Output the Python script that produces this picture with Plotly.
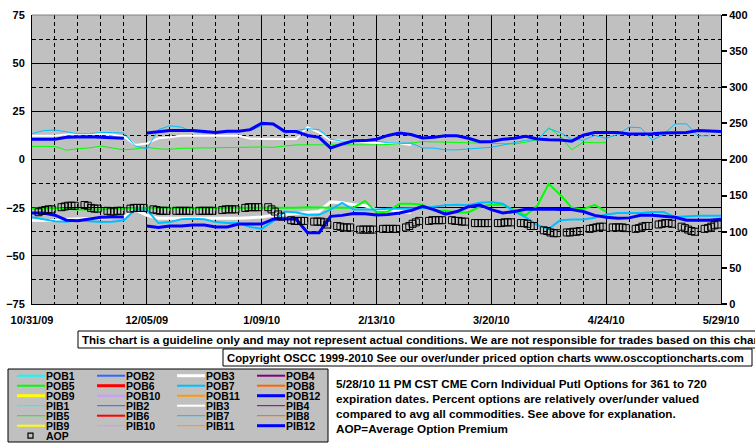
import pandas as pd
import plotly.graph_objects as go

# ---------------- data ----------------
DATES = pd.date_range("2009-10-31", "2010-05-29", freq="84h")   # half-week readings (61)
AOP_DATES = pd.bdate_range("2009-11-02", "2010-05-28")           # trading days (150)

N = None
# lower group (left axis, %)
POB3 = [-31.5, -31.7, -31.7, -31.0, -30.8, -30.5, -30.5, -30.3, -30.0, -26.0, -29.0,
        -30.5, -30.5, -30.5, -30.5, -30.5, -30.8, -30.8, -30.5, -30.2, -29.8,
        -29.0, -28.5, -28.0, -27.5, -27.0, -22.0, -22.5, -23.5, -24.0, -26.0,
        -26.5, -27.0, -27.5, N, N, N, N, N, N, N,
        N, N, N, N, N, N, N, N, N, N,
        N, N, N, N, N, N, N, N, N, N]
POB5 = [-25.5, -25.3, -25.0, -25.5, -26.0, -26.0, -26.0, -25.5, -25.3, -25.0, -25.0,
        -25.0, -25.2, -25.2, -25.2, -25.2, -25.2, -25.2, -25.2, -25.0, -25.0,
        -25.0, -25.0, -25.0, -24.8, -25.0, -25.0, -25.0, -25.0, -21.5, -27.5,
        -27.0, -23.0, -23.0, -23.5, -26.6, -26.6, -27.5, -27.5, -24.5, -23.5,
        -23.5, -26.2, -29.0, -24.0, -12.6, -18.3, -25.0, -25.8, -23.5, -27.0,
        N, N, N, N, N, N, N, N, N, N]
POB7 = [-30.0, -31.0, -32.0, -32.3, -31.5, -32.0, -32.5, -32.3, -31.5, -26.0, -26.0,
        -33.0, -32.5, -31.0, -30.8, -31.0, -32.5, -33.0, -33.0, -35.0, -36.0,
        -32.0, -27.0, -27.5, -28.7, -28.7, -26.0, -22.5, -26.0, -26.0, -26.0,
        -25.5, -25.3, -25.3, -25.3, -24.5, -23.7, -23.5, -23.8, -22.5, -22.0,
        -23.0, -26.9, -30.0, -34.0, -36.0, -31.5, -31.2, -31.2, -30.2, -28.5,
        -27.8, -27.8, -27.8, -27.3, -27.3, -29.9, -29.5, -29.2, -29.2, -29.2]
POB12 = [-27.8, -27.8, -28.9, -31.5, -31.8, -30.8, -30.0, -29.9, -29.9, N, -34.5,
         -35.3, -34.5, -34.5, -34.0, -34.0, -35.0, -35.0, -33.5, -33.5, -33.5,
         -31.0, -30.7, -31.0, -38.0, -38.0, -29.5, -29.0, -28.0, -28.2, -28.8,
         -28.5, -27.8, -26.5, -24.3, -26.0, -28.4, -27.0, -24.5, -23.6, -26.0,
         -27.8, -27.0, -25.8, -25.7, -25.7, -26.0, -26.0, -27.0, -29.0, -30.0,
         -30.5, -30.3, -29.0, -29.0, -29.5, -30.0, -31.5, -31.6, -31.5, -31.0]
# upper group (left axis, %)
PIB3 = [12.3, 12.3, 12.3, 13.0, 13.2, 13.2, 13.2, 12.8, 12.0, 7.5, 8.3,
        11.0, 11.5, 12.3, 12.3, 12.3, 12.3, 12.3, 12.3, 10.8, 10.6,
        10.6, 10.6, 10.6, 16.8, 14.0, 10.0, 9.8, 9.5, 9.0, 8.5,
        8.5, 8.3, 7.5, N, N, N, N, N, N, N,
        N, N, N, N, N, N, N, N, N, N,
        N, N, N, N, N, N, N, N, N, N]
PIB5 = [6.7, 6.7, 6.7, 4.8, 5.6, 6.0, 7.0, 6.0, 5.0, 5.5, 6.4,
        5.5, 5.3, 5.8, 5.9, 6.0, 6.0, 6.0, 6.2, 6.5, 6.5,
        6.3, 6.8, 7.6, 7.6, 7.6, 7.6, 7.4, 7.5, 7.6, 7.6,
        7.8, 8.0, 8.5, 9.3, 9.3, 9.0, 8.8, 8.6, 8.6, 8.5,
        8.1, 8.1, 9.0, 10.2, 16.5, 12.0, 5.0, 9.0, 8.7, 8.7,
        N, N, N, N, N, N, N, N, N, N]
PIB7 = [13.4, 15.0, 15.3, 14.5, 13.4, 13.4, 14.0, 14.0, 13.7, 7.0, 5.5,
        15.5, 17.5, 16.8, 14.5, 13.7, 13.7, 14.0, 15.0, 15.0, 17.5,
        18.5, 13.5, 15.0, 16.0, 15.5, 10.5, 9.5, 9.5, 9.5, 9.5,
        8.7, 8.6, 8.5, 6.0, 5.9, 5.0, 5.0, 5.5, 6.0, 6.3,
        7.5, 8.8, 10.0, 10.3, 16.0, 14.0, 10.5, 10.0, 12.5, 11.0,
        13.0, 16.8, 16.5, 10.0, 13.0, 18.5, 18.5, 12.3, 12.3, N]
PIB12 = [10.5, 10.5, 10.5, 11.5, 11.8, 11.8, 11.5, 11.2, 11.0, N, 13.7,
         14.5, 15.0, 15.0, 15.0, 14.5, 14.0, 14.7, 14.7, 15.5, 18.8,
         18.4, 14.7, 14.5, 12.5, 11.5, 6.0, 8.0, 9.7, 9.8, 10.5,
         12.5, 13.7, 13.0, 11.2, 11.5, 12.3, 12.3, 11.0, 9.2, 9.3,
         10.5, 11.0, 12.0, 10.6, 10.2, 10.1, 9.5, 12.6, 14.0, 14.0,
         14.0, 13.3, 13.3, 13.4, 13.7, 13.7, 14.0, 15.0, 14.8, 14.5]
# average option premium (right axis)
AOP = [127, 129, 130, 131, 131, 134, 135, 136, 136, 136, 137, 136, 133, 132, 132,
       129, 128, 128, 129, 129, 132, 133, 133, 133, 133, 131, 130, 129, 129, 129,
       129, 129, 129, 129, 129, 129, 129, 129, 129, 129, 130, 131, 131, 131, 131,
       133, 134, 134, 134, 134, 134, 131, 128, 124, 121, 116, 115, 115, 115, 115,
       114, 114, 114, 113, 110, 108, 107, 106, 106, 106, 103, 103, 103, 103, 103,
       104, 104, 104, 104, 104, 106, 108, 111, 113, 115, 115, 116, 116, 116, 116,
       116, 115, 115, 114, 114, 112, 112, 112, 112, 112, 112, 112, 113, 113, 113,
       112, 112, 111, 108, 108, 102, 101, 99, 98, 98, 99, 99, 100, 100, 101,
       104, 105, 106, 107, 107, 106, 106, 106, 106, 105, 104, 105, 107, 108, 108,
       110, 111, 112, 112, 111, 107, 105, 103, 101, 100, 104, 105, 107, 109, 110]

SERIES = {"POB3": POB3, "POB5": POB5, "POB7": POB7, "POB12": POB12,
          "PIB3": PIB3, "PIB5": PIB5, "PIB7": PIB7, "PIB12": PIB12}

LEGEND_NAMES = (["POB%d" % i for i in range(1, 13)] +
                ["PIB%d" % i for i in range(1, 13)] + ["AOP"])

NOTE_LINES = ["5/28/10 11 PM CST CME Corn Individual Putl Options for 361 to 720",
              "expiration dates. Percent options are relatively over/under valued",
              "compared to avg all commodities. See above for explanation.",
              "AOP=Average Option Premium"]
DISCLAIMER = ("This chart is a guideline only and may not represent actual conditions. "
              "We are not responsible for trades based on this chart")
COPYRIGHT = ("Copyright OSCC 1999-2010 See our over/under priced option charts "
             "www.osccoptioncharts.com")

# ---------------- styles ----------------
COLORS = ["#00FFFF", "#3366FF", "#FFFFFF", "#800080", "#00FF00", "#FF0000",
          "#00BFFF", "#FF6600", "#FFFF00", "#CC99FF", "#FF9900", "#0000FF"]


def style(name):
    n = int(name[3:])
    color = COLORS[n - 1]
    if name.startswith("POB"):
        width = 3 if n % 3 == 0 else 2
    else:
        width = 3 if n == 12 else (2 if n % 3 == 0 else 1)
    return color, width


FONT = "Arial, Liberation Sans, sans-serif"
L, T, W, H = 32, 15, 689, 289          # plot area in pixels
FIG_W, FIG_H = 755, 446


def px(x):
    return (x - L) / W


def py(y):
    return (T + H - y) / H


fig = go.Figure()
for name, vals in SERIES.items():
    color, width = style(name)
    fig.add_trace(go.Scatter(x=DATES, y=vals, mode="lines", name=name,
                             line=dict(color=color, width=width, shape="linear"),
                             connectgaps=False))
fig.add_trace(go.Scatter(x=AOP_DATES, y=AOP, mode="markers", name="AOP", yaxis="y2",
                         marker=dict(symbol="square-open", size=7, color="black",
                                     line=dict(width=1, color="black"))))

tickfont = dict(family=FONT, size=11, color="black", weight="bold")
DAY = 86400000

fig.update_layout(
    template="none",
    width=FIG_W, height=FIG_H,
    margin=dict(l=L, r=FIG_W - L - W, t=T, b=FIG_H - T - H, pad=0),
    paper_bgcolor="white", plot_bgcolor="#C0C0C0",
    showlegend=False,
    xaxis=dict(type="date", range=["2009-10-31", "2010-05-29"],
               tick0="2009-10-31", dtick=35 * DAY, tickformat="%-m/%d/%y",
               showgrid=True, gridcolor="black", gridwidth=1,
               minor=dict(tick0="2009-10-31", dtick=7 * DAY, showgrid=True,
                          gridcolor="black", gridwidth=1, griddash="4px,3px"),
               showline=True, linecolor="black", linewidth=1,
               ticks="", tickfont=tickfont, ticklabelstandoff=6,
               zeroline=False, automargin=False, fixedrange=True),
    yaxis=dict(range=[-75, 75], tick0=0, dtick=25,
               showgrid=True, gridcolor="black", gridwidth=1,
               minor=dict(tick0=0, dtick=12.5, showgrid=True,
                          gridcolor="black", gridwidth=1, griddash="4px,3px"),
               showline=True, linecolor="black", linewidth=1,
               ticks="", tickfont=tickfont, ticklabelstandoff=4,
               zeroline=False, automargin=False, fixedrange=True),
    yaxis2=dict(range=[0, 400], dtick=50, overlaying="y", side="right",
                showgrid=False, zeroline=False,
                showline=True, linecolor="black", linewidth=1,
                ticks="outside", ticklen=5, tickwidth=2, tickcolor="black",
                tickfont=tickfont, automargin=False, fixedrange=True),
)

shapes = [dict(type="line", xref="paper", yref="paper", x0=0, x1=1, y0=1, y1=1,
               line=dict(color="#808080", width=1))]
annotations = []

# disclaimer boxes
shapes.append(dict(type="rect", xref="paper", yref="paper",
                   x0=px(78), x1=px(770), y0=py(331), y1=py(348),
                   line=dict(color="black", width=1), fillcolor="white", layer="above"))
shapes.append(dict(type="rect", xref="paper", yref="paper",
                   x0=px(223), x1=px(752), y0=py(349), y1=py(366),
                   line=dict(color="black", width=1), fillcolor="white", layer="above"))
boxfont = dict(family=FONT, size=11.5, color="black", weight="bold")
copyfont = dict(family=FONT, size=11.3, color="black", weight="bold")
notefont = dict(family=FONT, size=11.7, color="black", weight="bold")
legfont = dict(family=FONT, size=10.5, color="black", weight="bold")
annotations.append(dict(xref="paper", yref="paper", x=px(80), y=py(339.5),
                        xanchor="left", yanchor="middle", text=DISCLAIMER,
                        showarrow=False, font=boxfont))
annotations.append(dict(xref="paper", yref="paper", x=px(225), y=py(357.5),
                        xanchor="left", yanchor="middle", text=COPYRIGHT,
                        showarrow=False, font=copyfont))

# notes
for i, line in enumerate(NOTE_LINES):
    annotations.append(dict(xref="paper", yref="paper", x=px(334), y=py(383.5 + 15 * i),
                            xanchor="left", yanchor="middle", text=line,
                            showarrow=False, font=notefont))

# legend box
shapes.append(dict(type="rect", xref="paper", yref="paper",
                   x0=px(8), x1=px(328), y0=py(369), y1=py(442),
                   line=dict(color="black", width=1), fillcolor="#C0C0C0"))
for k, name in enumerate(LEGEND_NAMES):
    row, col = divmod(k, 4)
    yc = 375.7 + 10 * row
    x0 = 17 + 80 * col
    if name == "AOP":
        shapes.append(dict(type="rect", xref="paper", yref="paper",
                           x0=px(x0 + 11), x1=px(x0 + 16), y0=py(yc - 2.5), y1=py(yc + 2.5),
                           line=dict(color="black", width=1.2)))
    else:
        color, width = style(name)
        shapes.append(dict(type="line", xref="paper", yref="paper",
                           x0=px(x0), x1=px(x0 + 28), y0=py(yc), y1=py(yc),
                           line=dict(color=color, width=width)))
    annotations.append(dict(xref="paper", yref="paper", x=px(x0 + 28), y=py(yc),
                            xanchor="left", yanchor="middle", text=name,
                            height=10, valign="middle", borderpad=0,
                            showarrow=False, font=legfont))

fig.update_layout(shapes=shapes, annotations=annotations)
fig.write_html("out.html", config={"displayModeBar": False})
